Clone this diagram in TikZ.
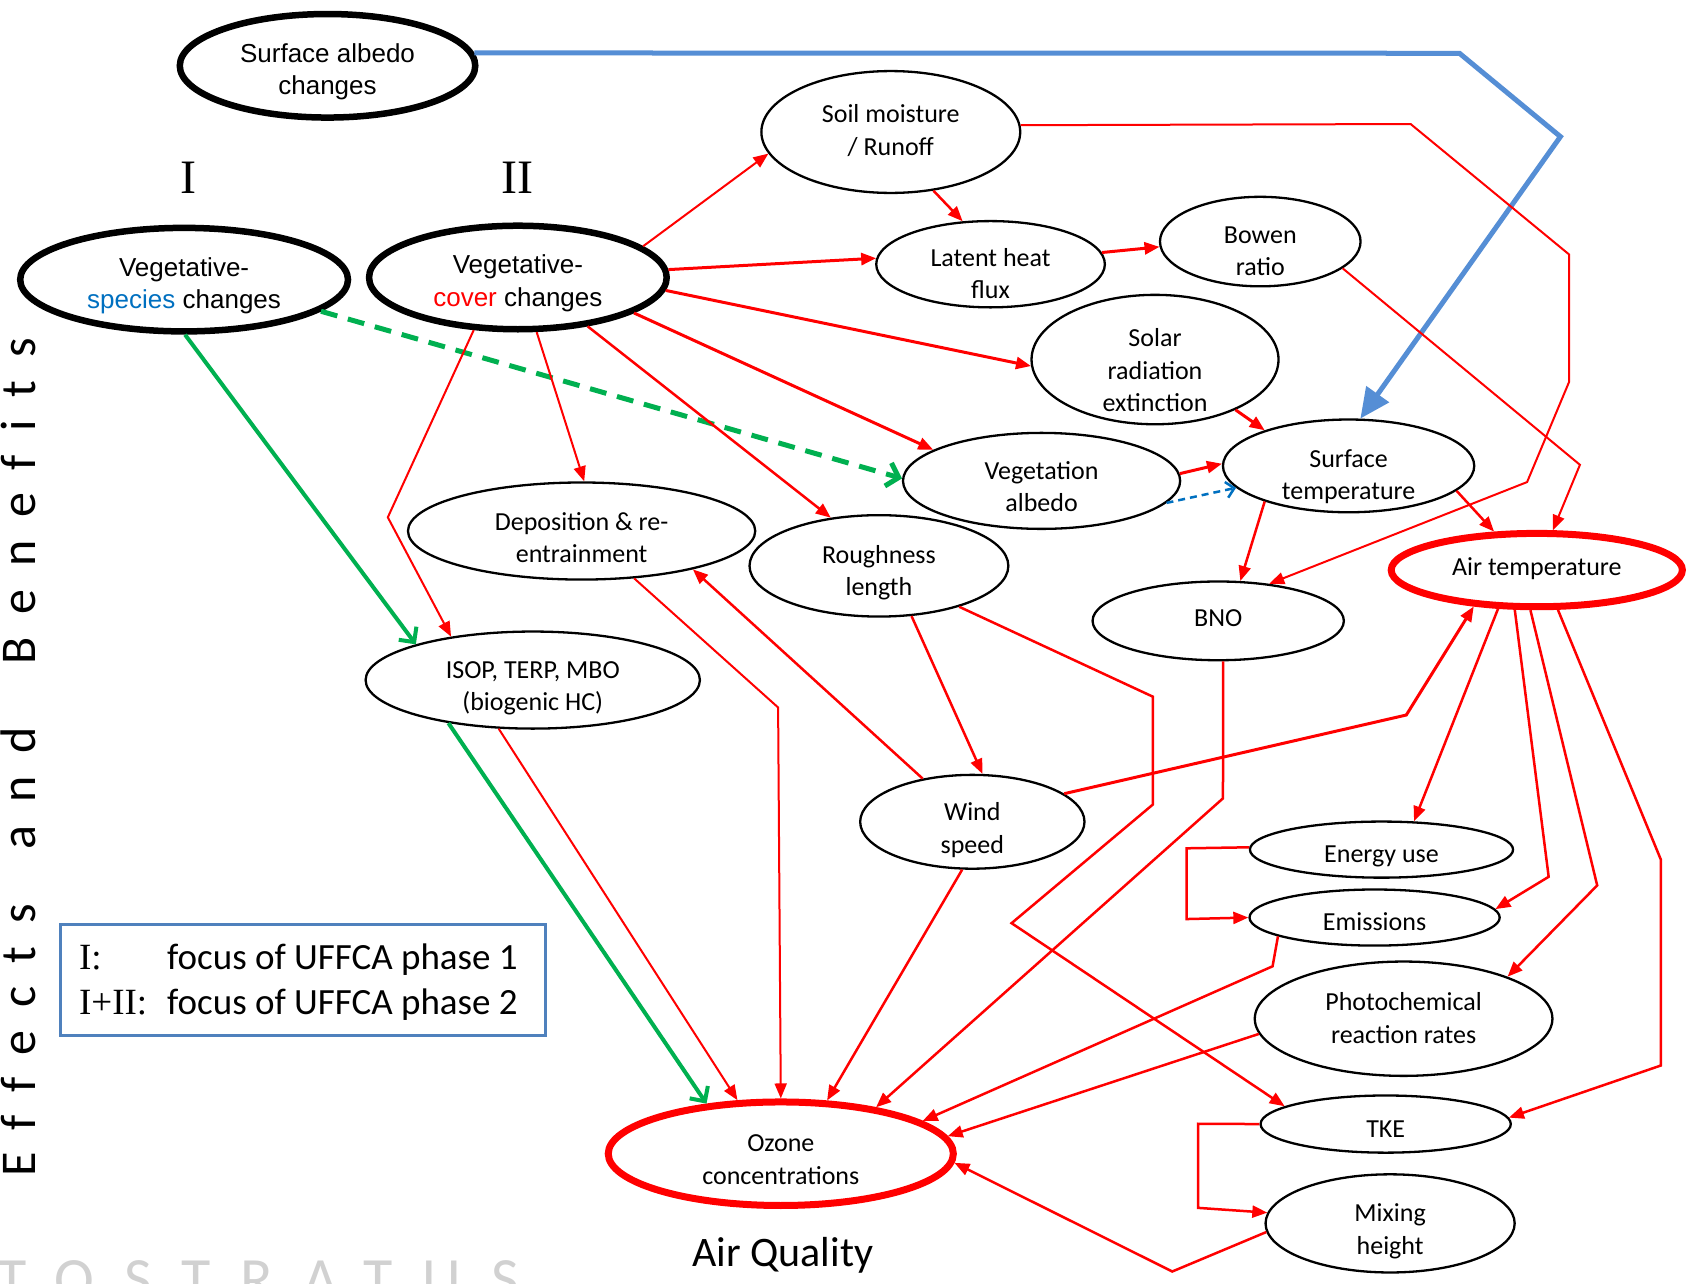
\documentclass[tikz,border=0pt]{standalone}
\usepackage{fontspec}
\setmainfont{Carlito}
\newfontfamily\tms{Liberation Serif}
\newfontfamily\arl{Liberation Sans}
\usetikzlibrary{arrows.meta,shapes.geometric}
\definecolor{rd}{HTML}{FF0000}
\definecolor{gr}{HTML}{00B050}
\definecolor{blA}{HTML}{558ED5}
\definecolor{blD}{HTML}{0070C0}
\definecolor{lgb}{HTML}{4F81BD}
\newcommand\nodefont{\fontsize{26}{32.3}\selectfont}
\newcommand\nt[2]{\raisebox{-#1pt}[\height][\depth]{\begin{tabular}{@{}c@{}}#2\end{tabular}}}
\begin{document}
\begin{tikzpicture}[x=1.0784pt,y=-1.0784pt,
  E/.style 2 args={ellipse, draw=black, line width=2.3pt, inner sep=-40pt,
     minimum width=#1*1.0784pt, minimum height=#2*1.0784pt, font=\nodefont},
  heavy/.style={line width=6.5pt, font=\arl\nodefont},
  redb/.style={draw=rd, line width=7pt},
  ra/.style={draw=rd, line width=2.5pt, -{Triangle[length=15pt,width=12pt]}},
  lwa/.style={line width=2pt},
  lwb/.style={line width=3pt},
  ga/.style={draw=gr, line width=4pt, -{Straight Barb[length=11pt,width=22pt]}},
  gd/.style={draw=gr, line width=5pt, dash pattern=on 17pt off 11pt, -{Straight Barb[length=11pt,width=24pt]}},
  ba/.style={draw=blA, line width=5pt, -{Triangle[length=30pt,width=27pt]}},
  bd/.style={draw=blD, line width=2.5pt, dash pattern=on 7pt off 5pt, -{Straight Barb[length=8pt,width=16pt]}}
]
\useasboundingbox (0,0) rectangle (1568,1190);
\fill[white] (0,0) rectangle (1568,1190);

% watermark
\begin{scope}
\clip (0,0) rectangle (1568,1190);
\node[font=\fontsize{60}{70}\selectfont\addfontfeature{LetterSpace=50}, text=black!18, anchor=base west, inner sep=0pt] (WM) at (-2.8,1205) {TOSTRATUS};
\end{scope}

% side text and numerals
\node[rotate=90, anchor=base, inner sep=0pt, font=\fontsize{50}{60}\selectfont\addfontfeature{LetterSpace=46,Ligatures=NoCommon}] (EB) at (33,702) {Effects\hspace{55pt}and\hspace{62pt}Benefits};
\node[font=\tms\fontsize{48}{56}\selectfont, anchor=base, inner sep=0pt] (N1) at (174.9,179.3) {I};
\node[font=\tms\fontsize{48}{56}\selectfont, anchor=base, inner sep=0pt] (N2) at (479.4,179.3) {II};

% nodes
\node[E={274}{96}, heavy] (SA) at (303.7,61) {\nt{6.6}{Surface albedo\\changes}};
\node[E={304}{96}, heavy] (VS) at (170.7,259.3) {\nt{6.1}{Vegetative-\\{\color{blD}species} changes}};
\node[E={276}{96}, heavy] (VC) at (480.2,257.3) {\nt{6.2}{Vegetative-\\{\color{rd}cover} changes}};
\node[E={240}{113}] (SM) at (826,122.4) {\nt{0.4}{Soil moisture\\/ Runoff}};
\node[E={212}{80}] (LH) at (918.5,245) {\nt{12}{Latent heat\\flux}};
\node[E={186}{83}] (BR) at (1168.6,224) {\nt{11.4}{Bowen\\ratio}};
\node[E={229}{120}] (SR) at (1071,333.4) {\nt{13}{Solar\\radiation\\extinction}};
\node[E={257}{89}] (VA) at (965.8,445.9) {\nt{8.1}{Vegetation\\albedo}};
\node[E={233}{86}] (ST) at (1250.5,432) {\nt{11.1}{Surface\\temperature}};
\node[E={322}{90}] (DE) at (539.3,492.4) {\nt{8.7}{Deposition \& re-\\entrainment}};
\node[E={240}{94}] (RL) at (815,524.7) {\nt{7.2}{Roughness\\length}};
\node[E={233}{73}] (BNO) at (1129.6,575.7) {\nt{-0.6}{BNO}};
\node[E={270}{68}, redb] (AT) at (1425,528.6) {\nt{-1.5}{Air temperature}};
\node[E={310}{90}] (IS) at (494,630.6) {\nt{8}{ISOP, TERP, MBO\\(biogenic HC)}};
\node[E={208}{87}] (WS) at (901.6,762) {\nt{8.7}{Wind\\speed}};
\node[E={244}{52}] (EU) at (1281,787.8) {\nt{6.7}{Energy use}};
\node[E={232}{52}] (EM) at (1274.6,850.8) {\nt{6.7}{Emissions}};
\node[E={276}{106}] (PR) at (1301.5,944.6) {\nt{1.7}{Photochemical\\reaction rates}};
\node[E={232}{53}] (TKE) at (1284.9,1042.3) {\nt{7.2}{TKE}};
\node[E={231}{91}] (MH) at (1289,1134.4) {\nt{8.1}{Mixing\\height}};
\node[E={320}{96}, redb] (OZ) at (724,1069.8) {\nt{7.7}{Ozone\\concentrations}};

\node[font=\fontsize{42}{50}\selectfont, anchor=base, inner sep=0pt] (AQ) at (725.8,1174.6) {Air Quality};

\node[draw=lgb, line width=2.5pt, minimum width=484.8pt, minimum height=110.9pt, anchor=north west, inner sep=0pt, font=\fontsize{37}{45}\selectfont] (LG) at (55,856)
 {\raisebox{-3pt}[\height][\depth]{\begin{tabular}{@{}l@{}}\makebox[88pt][l]{\tms I:}focus of UFFCA phase 1\\ \makebox[88pt][l]{\tms I+II:}focus of UFFCA phase 2\end{tabular}}\hspace*{9pt}};

% blue connectors
\draw[ba] (SA.5.3) -- (1353.3,49.4) -- (1446.9,126.7) -- (ST.76.3);
\draw[bd] (VA.-10.2) -- (ST.191.1);

% green connectors
\draw[ga] (VS.-89) -- (IS.163);
\draw[ga] (IS.207.7) -- (OZ.146.4);
\draw[gd] (VS.-13.9) -- (VA.179.6);

% red connectors
\draw[ra, lwa] (VC.14.4) -- (SM.-170.2);
\draw[ra, lwb] (VC.3.8) -- (LH.177);
\draw[ra, lwb] (VC.-5.4) -- (SR.-177.4);
\draw[ra, lwb] (VC.-17.2) -- (VA.164.3);
\draw[ra] (VC.-35.9) -- (RL.135.2);
\draw[ra, lwa] (VC.-71.5) -- (DE.87);
\draw[ra, lwa] (VC.-130.9) -- (359.6,479.7) -- (IS.152.3);
\draw[ra] (SM.-54.6) -- (LH.123.2);
\draw[ra, lwa] (SM.3.5) -- (1308,115) -- (1455,236) -- (1455,354) -- (1416,447) -- (BNO.36.2);
\draw[ra, lwa] (BR.-18.9) -- (1465,431) -- (AT.68);
\draw[ra, lwb] (LH.6.1) -- (BR.183.9);
\draw[ra, lwb] (SR.-32) -- (ST.157.6);
\draw[ra, lwb] (VA.3.2) -- (ST.179.6);
\draw[ra] (ST.203.4) -- (BNO.61.8);
\draw[ra] (ST.-13.4) -- (AT.138.2);
\draw[ra, lwa] (IS.-125.9) -- (OZ.129.7);
\draw[ra, lwa] (DE.-42.3) -- (721.5,656) -- (OZ.90);
\draw[ra] (RL.-57) -- (WS.78.6);
\draw[ra] (RL.-27.3) -- (1069,646) -- (1069,746) -- (938,856) -- (TKE.170.6);
\draw[ra] (WS.139.7) -- (DE.-19.6);
\draw[ra, lwb] (WS.17.4) -- (1304,663) -- (AT.210.1);
\draw[ra] (WS.258.3) -- (OZ.49.2);
\draw[ra] (BNO.-83) -- (1134,740.3) -- (OZ.26.7);
\draw[ra] (AT.-135) -- (EU.41.9);
\draw[ra] (AT.-119.7) -- (1436,813) -- (EM.4.3);
\draw[ra] (AT.-99.6) -- (1481,821) -- (PR.22.2);
\draw[ra] (AT.-62.9) -- (1540,797) -- (1540,988) -- (TKE.3.2);
\draw[ra] (EU.179.4) -- (1100.3,786.6) -- (1100.3,852.2) -- (EM.180.7);
\draw[ra] (EM.191.9) -- (1180,896) -- (OZ.13.1);
\draw[ra] (PR.186.6) -- (OZ.6.2);
\draw[ra] (TKE.180) -- (1111,1042) -- (1111,1120) -- (MH.175.9);
\draw[ra] (MH.184) -- (1087,1179) -- (OZ.-3.6);
\end{tikzpicture}
\end{document}
